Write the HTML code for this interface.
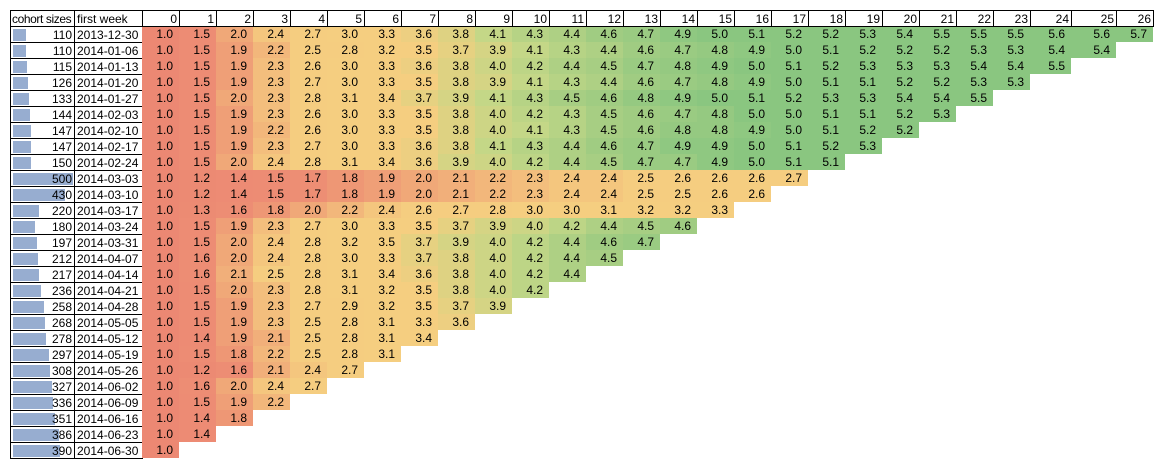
<!DOCTYPE html>
<html><head><meta charset="utf-8">
<style>
html,body{margin:0;padding:0;background:#fff;width:1162px;height:467px;overflow:hidden;}
#tbl{position:absolute;left:0;top:0;width:1162px;height:467px;font-family:"Liberation Sans",sans-serif;font-size:12px;color:#000;}
.c{position:absolute;box-sizing:border-box;line-height:16px;white-space:nowrap;overflow:hidden;}
.b{border:1px solid #000;}
.r{text-align:right;}
.bar{position:absolute;background:#97add0;}
</style></head><body>
<div id="tbl"></div>
<script>
const cohortSizes=[110,110,115,126,133,144,147,147,150,500,430,220,180,197,212,217,236,258,268,278,297,308,327,336,351,386,390];
const firstWeeks=["2013-12-30","2014-01-06","2014-01-13","2014-01-20","2014-01-27","2014-02-03","2014-02-10","2014-02-17","2014-02-24","2014-03-03","2014-03-10","2014-03-17","2014-03-24","2014-03-31","2014-04-07","2014-04-14","2014-04-21","2014-04-28","2014-05-05","2014-05-12","2014-05-19","2014-05-26","2014-06-02","2014-06-09","2014-06-16","2014-06-23","2014-06-30"];
const weekLabels=[0,1,2,3,4,5,6,7,8,9,10,11,12,13,14,15,16,17,18,19,20,21,22,23,24,25,26];
const values=[
[1.0,1.5,2.0,2.4,2.7,3.0,3.3,3.6,3.8,4.1,4.3,4.4,4.6,4.7,4.9,5.0,5.1,5.2,5.2,5.3,5.4,5.5,5.5,5.5,5.6,5.6,5.7],
[1.0,1.5,1.9,2.2,2.5,2.8,3.2,3.5,3.7,3.9,4.1,4.3,4.4,4.6,4.7,4.8,4.9,5.0,5.1,5.2,5.2,5.2,5.3,5.3,5.4,5.4],
[1.0,1.5,1.9,2.3,2.6,3.0,3.3,3.6,3.8,4.0,4.2,4.4,4.5,4.7,4.8,4.9,5.0,5.1,5.2,5.3,5.3,5.3,5.4,5.4,5.5],
[1.0,1.5,1.9,2.3,2.7,3.0,3.3,3.5,3.8,3.9,4.1,4.3,4.4,4.6,4.7,4.8,4.9,5.0,5.1,5.1,5.2,5.2,5.3,5.3],
[1.0,1.5,2.0,2.3,2.8,3.1,3.4,3.7,3.9,4.1,4.3,4.5,4.6,4.8,4.9,5.0,5.1,5.2,5.3,5.3,5.4,5.4,5.5],
[1.0,1.5,1.9,2.3,2.6,3.0,3.3,3.5,3.8,4.0,4.2,4.3,4.5,4.6,4.7,4.8,5.0,5.0,5.1,5.1,5.2,5.3],
[1.0,1.5,1.9,2.2,2.6,3.0,3.3,3.5,3.8,4.0,4.1,4.3,4.5,4.6,4.8,4.8,4.9,5.0,5.1,5.2,5.2],
[1.0,1.5,1.9,2.3,2.7,3.0,3.3,3.6,3.8,4.1,4.3,4.4,4.6,4.7,4.9,4.9,5.0,5.1,5.2,5.3],
[1.0,1.5,2.0,2.4,2.8,3.1,3.4,3.6,3.9,4.0,4.2,4.4,4.5,4.7,4.7,4.9,5.0,5.1,5.1],
[1.0,1.2,1.4,1.5,1.7,1.8,1.9,2.0,2.1,2.2,2.3,2.4,2.4,2.5,2.6,2.6,2.6,2.7],
[1.0,1.2,1.4,1.5,1.7,1.8,1.9,2.0,2.1,2.2,2.3,2.4,2.4,2.5,2.5,2.6,2.6],
[1.0,1.3,1.6,1.8,2.0,2.2,2.4,2.6,2.7,2.8,3.0,3.0,3.1,3.2,3.2,3.3],
[1.0,1.5,1.9,2.3,2.7,3.0,3.3,3.5,3.7,3.9,4.0,4.2,4.4,4.5,4.6],
[1.0,1.5,2.0,2.4,2.8,3.2,3.5,3.7,3.9,4.0,4.2,4.4,4.6,4.7],
[1.0,1.6,2.0,2.4,2.8,3.0,3.3,3.7,3.8,4.0,4.2,4.4,4.5],
[1.0,1.6,2.1,2.5,2.8,3.1,3.4,3.6,3.8,4.0,4.2,4.4],
[1.0,1.5,2.0,2.3,2.8,3.1,3.2,3.5,3.8,4.0,4.2],
[1.0,1.5,1.9,2.3,2.7,2.9,3.2,3.5,3.7,3.9],
[1.0,1.5,1.9,2.3,2.5,2.8,3.1,3.3,3.6],
[1.0,1.4,1.9,2.1,2.5,2.8,3.1,3.4],
[1.0,1.5,1.8,2.2,2.5,2.8,3.1],
[1.0,1.2,1.6,2.1,2.4,2.7],
[1.0,1.6,2.0,2.4,2.7],
[1.0,1.5,1.9,2.2],
[1.0,1.4,1.8],
[1.0,1.4],
[1.0]
];
const T=document.getElementById('tbl');
const TOP=10,HH=16,RH=16;
const colRight=i=> i<=23 ? 179+37*i : [1071,1116,1153][i-24];
const colLeft=i=> i===0 ? 142 : colRight(i-1);
const maxSize=Math.max(...cohortSizes);
const stops=[[1.0,[236,136,115]],[1.7,[237,142,116]],[2.0,[240,168,120]],[2.5,[245,205,128]],[3.5,[245,206,128]],[3.8,[222,210,130]],[4.1,[196,215,135]],[4.6,[160,204,130]],[5.0,[138,198,128]],[6,[138,198,128]]];
function colorFor(v){
  for(let k=0;k<stops.length-1;k++){
    const [a,ca]=stops[k],[b,cb]=stops[k+1];
    if(v<=b){const t=Math.max(0,(v-a)/(b-a));return 'rgb('+ca.map((c,j)=>Math.round(c+(cb[j]-c)*t)).join(',')+')';}
  }
  return 'rgb(138,198,128)';
}
function mk(cls,x,y,w,h,txt){const d=document.createElement('div');d.className=cls;d.style.left=x+'px';d.style.top=y+'px';d.style.width=w+'px';d.style.height=h+'px';if(txt!==undefined)d.textContent=txt;T.appendChild(d);return d;}
let h=mk('c b',10,TOP,65,HH+1,'cohort sizes');h.style.paddingLeft='1px';h.style.letterSpacing='-0.4px';


h=mk('c b',74,TOP,69,HH+1,'first week');h.style.paddingLeft='2px';


weekLabels.forEach((lab,i)=>{
  const x=colLeft(i),w=colRight(i)-x;
  const d=mk('c b r',x,TOP,w+1,HH+1,String(lab));d.style.paddingRight='2px';
  
  
});
cohortSizes.forEach((s,r)=>{
  const y=TOP+HH+r*RH;
  const sc=mk('c b r',10,y,65,RH+1,'');
  
  
  const bar=document.createElement('div');bar.className='bar';
  bar.style.left='2px';bar.style.top='2px';bar.style.height=(RH-4)+'px';bar.style.width=Math.round(s/maxSize*60)+'px';
  
  
  sc.appendChild(bar);
  const sp=document.createElement('span');sp.style.position='relative';sp.style.paddingRight='2px';sp.textContent=s;sc.appendChild(sp);
  const fw=mk('c b',74,y,69,RH+1,firstWeeks[r]);fw.style.paddingLeft='2px';
  
  
  values[r].forEach((v,i)=>{
    const x=colLeft(i),w=colRight(i)-x;
    const d=mk('c r',x,y+(r===0?1:0),w,RH-(r===0?1:0),v.toFixed(1));
    d.style.background=colorFor(v);d.style.paddingRight='6px';
    if(r===0)d.style.lineHeight='15px';
    
    
  });
});
</script>
</body></html>
